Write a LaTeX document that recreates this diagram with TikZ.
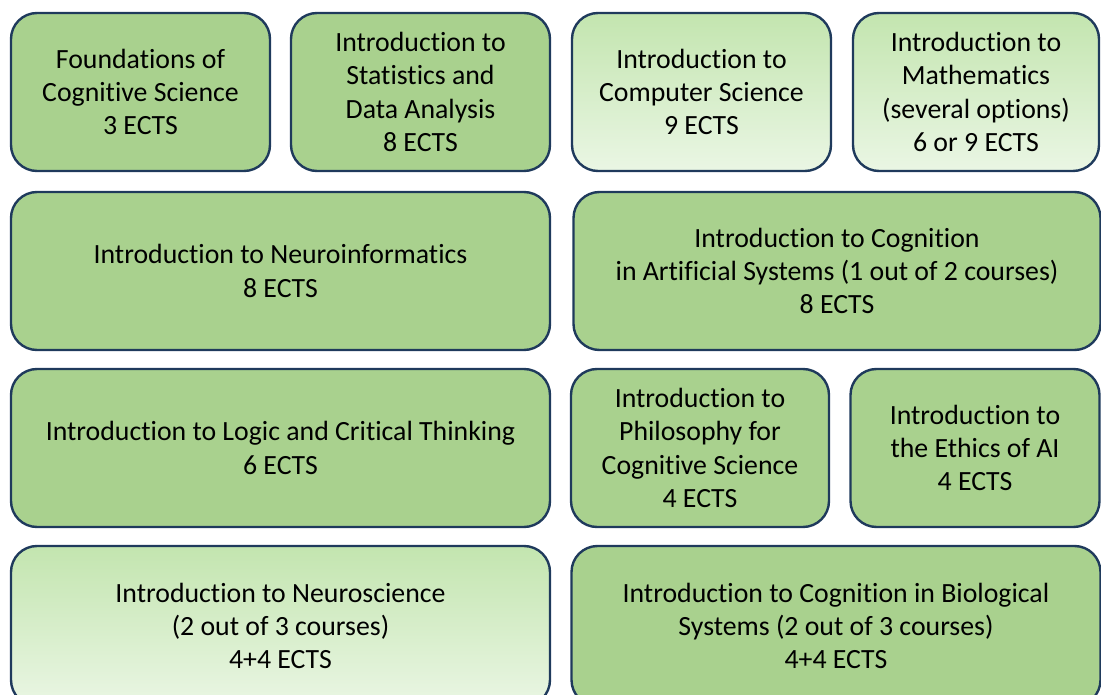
\documentclass[tikz,border=0pt]{standalone}
\usepackage{fontspec}
\setmainfont{Carlito}[Ligatures={CommonOff,RareOff}]
\definecolor{boxgreen}{HTML}{A9D18E}
\definecolor{boxline}{HTML}{1F3A5C}
\definecolor{gradtop}{HTML}{C3E5AF}
\definecolor{gradbot}{HTML}{EAF6E4}
\begin{document}
\begin{tikzpicture}[x=1pt,y=-1pt,
  course/.style={draw=boxline, line width=2.4pt, rounded corners=26pt,
    align=center, inner sep=0pt, font=\fontsize{27.8}{33.3}\selectfont},
  solid fill/.style={fill=boxgreen},
  light fill/.style={top color=gradtop, bottom color=gradbot}]
\useasboundingbox (0,0) rectangle (1101,695);
\clip (0,0) rectangle (1101,695);
% row 1
\node[course, solid fill, minimum width=259pt, minimum height=158pt] (found) at (140.5,92) {Foundations of\\Cognitive Science\\3 ECTS};
\node[course, solid fill, minimum width=259pt, minimum height=158pt] (stat) at (420.5,92) {Introduction to\\Statistics and\\Data Analysis\\8 ECTS};
\node[course, light fill, minimum width=259pt, minimum height=158pt] (cs) at (701.5,92) {Introduction to\\Computer Science\\9 ECTS};
\node[course, light fill, minimum width=246pt, minimum height=158pt] (math) at (976,92) {Introduction to\\Mathematics\\(several options)\\6 or 9 ECTS};
% row 2
\node[course, solid fill, minimum width=539pt, minimum height=158pt] (neuroinf) at (280.5,271) {Introduction to Neuroinformatics\\8 ECTS};
\node[course, solid fill, minimum width=527pt, minimum height=158pt] (cogart) at (837,271) {Introduction to Cognition\\in Artificial Systems (1 out of 2 courses)\\8 ECTS};
% row 3
\node[course, solid fill, minimum width=539pt, minimum height=158pt] (logic) at (280.5,448) {Introduction to Logic and Critical Thinking\\6 ECTS};
\node[course, solid fill, minimum width=258pt, minimum height=158pt] (phil) at (700,448) {Introduction to\\Philosophy for\\Cognitive Science\\4 ECTS};
\node[course, solid fill, minimum width=249pt, minimum height=158pt] (ethics) at (975,448) {Introduction to\\the Ethics of AI\\4 ECTS};
% row 4
\node[course, light fill, minimum width=539pt, minimum height=160pt] (neurosci) at (280.5,626) {Introduction to Neuroscience\\(2 out of 3 courses)\\4+4 ECTS};
\node[course, solid fill, minimum width=529pt, minimum height=160pt] (cogbio) at (836,626) {Introduction to Cognition in Biological\\Systems (2 out of 3 courses)\\4+4 ECTS};
\end{tikzpicture}
\end{document}
